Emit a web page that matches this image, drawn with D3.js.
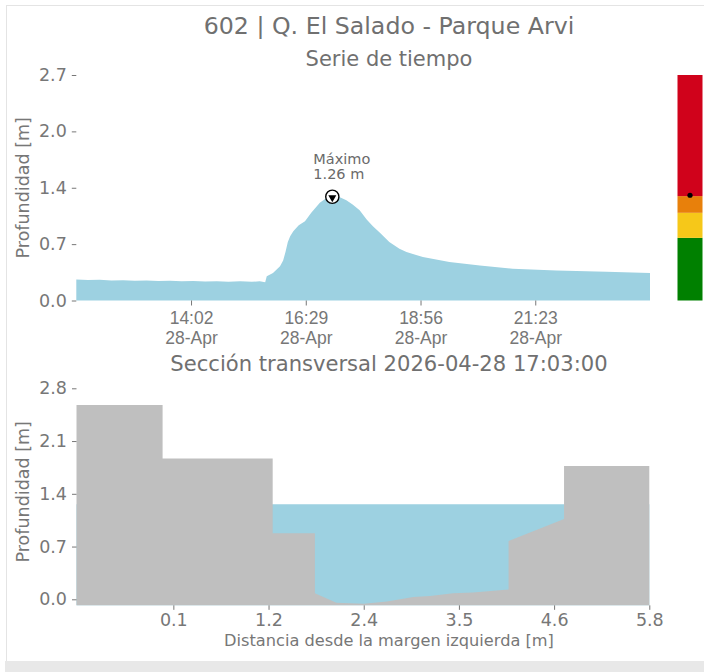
<!DOCTYPE html>
<html>
<head>
<meta charset="utf-8">
<script src="https://cdn.jsdelivr.net/npm/d3@7"></script>
<style>
  html, body { margin: 0; padding: 0; background: #fff; }
  svg { display: block; font-family: "DejaVu Sans", sans-serif; }
</style>
</head>
<body>
<svg id="chart" width="704" height="672"></svg>
<script>
// ---------- DATA ----------
const stationTitle = "602 | Q. El Salado - Parque Arvi";
const seriesTitle = "Serie de tiempo";
const sectionTitle = "Sección transversal 2026-04-28 17:03:00";
const dateStr = "2026-04-28";

const seriesTimes = ["11:35","11:50","12:05","12:20","12:35","12:50","13:05","13:20","13:35","13:50",
  "14:05","14:20","14:35","14:50","15:05","15:20","15:30","15:37","15:39","15:47","15:56","16:00",
  "16:03","16:06","16:09","16:13","16:20","16:28","16:36","16:47","16:56","17:03","17:12","17:21",
  "17:29","17:38","17:47","17:55","18:04","18:16","18:29","18:38","18:59","19:33","20:12","20:54",
  "21:50","22:54","23:50"];
const seriesDepth = [0.25,0.245,0.248,0.24,0.243,0.236,0.238,0.232,0.235,0.23,
  0.233,0.228,0.231,0.226,0.229,0.224,0.23,0.22,0.29,0.33,0.41,0.48,
  0.58,0.70,0.77,0.83,0.90,0.95,1.05,1.17,1.23,1.26,1.24,1.20,
  1.15,1.08,0.97,0.89,0.81,0.70,0.62,0.58,0.52,0.46,0.42,0.38,
  0.36,0.345,0.33];
const timeStart = "11:35", timeEnd = "23:50";
const timeTicks = ["14:02","16:29","18:56","21:23"];
const topYTicks = [0, 0.675, 1.35, 2.025, 2.7];

const maxLabel = "Máximo";
const maxValueLabel = "1.26 m";

// alert levels (bar on the right)
const levelBounds = [0, 0.75, 1.05, 1.25, 2.7];
const levelColors = ["#008000", "#f6c819", "#e8800b", "#d0021b"];
const currentLevel = 1.26;

// cross-section
const groundX = [-1.12, -0.08, -0.08, 1.25, 1.25, 1.76, 1.76, 2.02, 2.35, 2.63, 2.95, 3.15, 3.43, 3.67, 3.92, 4.10, 4.10, 4.77, 4.77, 5.8];
const groundZ = [2.58, 2.58, 1.87, 1.87, 0.876, 0.876, 0.08, -0.045, -0.06, -0.03, 0.03, 0.045, 0.08, 0.09, 0.115, 0.13, 0.774, 1.065, 1.77, 1.77];
const waterLevel = 1.26;
const secXTicks = [0.05, 1.2, 2.35, 3.5, 4.65, 5.8];
const secXTickLabels = ["0.1", "1.2", "2.4", "3.5", "4.6", "5.8"];
const secYTicks = [0, 0.7, 1.4, 2.1, 2.8];
const secYMin = -0.08;
const yLabel = "Profundidad [m]";
const xLabel = "Distancia desde la margen izquierda [m]";

// ---------- DRAW ----------
const svg = d3.select("#chart");
const textCol = "#707070";
const tickCol = "#777";
const parse = d3.timeParse("%Y-%m-%d %H:%M");
const T = s => parse(dateStr + " " + s);

// frame
svg.append("line").attr("x1", 6).attr("x2", 704).attr("y1", 5.5).attr("y2", 5.5).attr("stroke", "#e4e4e4");
svg.append("line").attr("x1", 6.5).attr("x2", 6.5).attr("y1", 5).attr("y2", 661).attr("stroke", "#e4e4e4");
svg.append("rect").attr("x", 5).attr("y", 661).attr("width", 699).attr("height", 11).attr("fill", "#e8e8e8");

const cx = 389;
svg.append("text").attr("x", cx).attr("y", 34).attr("text-anchor", "middle")
  .attr("font-size", 23.7).attr("fill", textCol).text(stationTitle);
svg.append("text").attr("x", cx).attr("y", 66).attr("text-anchor", "middle")
  .attr("font-size", 21).attr("fill", textCol).text(seriesTitle);
svg.append("text").attr("x", cx).attr("y", 371).attr("text-anchor", "middle")
  .attr("font-size", 21.1).attr("fill", textCol).text(sectionTitle);

// ---- top chart ----
const x1 = d3.scaleTime().domain([T(timeStart), T(timeEnd)]).range([76.3, 650]);
const y1 = d3.scaleLinear().domain([0, 2.7]).range([300.5, 75]);
const series = seriesTimes.map((t, i) => ({ t: T(t), v: seriesDepth[i] }));

svg.append("path").datum(series)
  .attr("fill", "#9dd1e1")
  .attr("d", d3.area().x(d => x1(d.t)).y0(y1(0)).y1(d => y1(d.v)));

const gx1 = svg.append("g").attr("transform", `translate(0,${y1(0)})`)
  .call(d3.axisBottom(x1).tickValues(timeTicks.map(T)).tickSize(5).tickPadding(6).tickFormat(""));
gx1.select(".domain").remove();
gx1.selectAll(".tick line").attr("stroke", tickCol);
gx1.selectAll(".tick").each(function(d) {
  const g = d3.select(this);
  const tx = g.append("text").attr("fill", tickCol).attr("font-size", 17.5).attr("text-anchor", "middle");
  tx.append("tspan").attr("x", 0).attr("y", 23).text(d3.timeFormat("%H:%M")(d));
  tx.append("tspan").attr("x", 0).attr("y", 43).text(d3.timeFormat("%d-%b")(d));
});

const gy1 = svg.append("g").attr("transform", `translate(76.3,0)`)
  .call(d3.axisLeft(y1).tickValues(topYTicks).tickSize(4.5).tickPadding(5).tickFormat(d3.format(".1f")));
gy1.select(".domain").remove();
gy1.selectAll(".tick line").attr("stroke", tickCol);
gy1.selectAll(".tick text").attr("fill", tickCol).attr("font-size", 17.5).attr("font-family", "DejaVu Sans");

svg.append("text").attr("transform", `translate(29,${(y1(0) + y1(2.7)) / 2}) rotate(-90)`)
  .attr("text-anchor", "middle").attr("font-size", 17.5).attr("fill", tickCol).text(yLabel);

// max marker
const maxPt = series.reduce((a, b) => (b.v > a.v ? b : a));
const mx = x1(maxPt.t), my = y1(maxPt.v) + 1.5;
svg.append("circle").attr("cx", mx).attr("cy", my).attr("r", 6.6)
  .attr("fill", "#fff").attr("stroke", "#000").attr("stroke-width", 1.4);
svg.append("path").attr("transform", `translate(${mx},${my + 0.8}) rotate(180)`)
  .attr("d", d3.symbol().type(d3.symbolTriangle).size(28)).attr("fill", "#000");
svg.append("text").attr("x", mx - 19).attr("y", my - 33).attr("font-size", 14.5).attr("fill", "#6a6a6a").text(maxLabel);
svg.append("text").attr("x", mx - 19).attr("y", my - 18).attr("font-size", 14.5).attr("fill", "#6a6a6a").text(maxValueLabel);

// alert bar
for (let i = 0; i < levelColors.length; i++) {
  svg.append("rect").attr("x", 677.5).attr("width", 25)
    .attr("y", y1(levelBounds[i + 1])).attr("height", y1(levelBounds[i]) - y1(levelBounds[i + 1]))
    .attr("fill", levelColors[i]);
}
svg.append("circle").attr("cx", 690).attr("cy", y1(currentLevel)).attr("r", 2.6).attr("fill", "#000");

// ---- cross section ----
const x2 = d3.scaleLinear().domain([-1.12, 5.8]).range([76.5, 649.3]);
const y2 = d3.scaleLinear().domain([0, 2.8]).range([599.3, 388.3]);
const ground = groundX.map((x, i) => ({ x, z: groundZ[i] }));

svg.append("path").datum(ground)
  .attr("fill", "#9dd1e1")
  .attr("d", d3.area().x(d => x2(d.x)).y0(y2(secYMin)).y1(() => y2(waterLevel)));
svg.append("path").datum(ground)
  .attr("fill", "#bfbfbf")
  .attr("d", d3.area().x(d => x2(d.x)).y0(y2(secYMin)).y1(d => y2(d.z)));

const gx2 = svg.append("g").attr("transform", `translate(0,${y2(secYMin)})`)
  .call(d3.axisBottom(x2).tickValues(secXTicks).tickSize(4.5).tickPadding(4)
    .tickFormat((d, i) => secXTickLabels[i]));
gx2.select(".domain").remove();
gx2.selectAll(".tick line").attr("stroke", tickCol);
gx2.selectAll(".tick text").attr("fill", tickCol).attr("font-size", 17.5).attr("font-family", "DejaVu Sans");

const gy2 = svg.append("g").attr("transform", `translate(76.5,0)`)
  .call(d3.axisLeft(y2).tickValues(secYTicks).tickSize(4.5).tickPadding(5).tickFormat(d3.format(".1f")));
gy2.select(".domain").remove();
gy2.selectAll(".tick line").attr("stroke", tickCol);
gy2.selectAll(".tick text").attr("fill", tickCol).attr("font-size", 17.5).attr("font-family", "DejaVu Sans");

svg.append("text").attr("transform", `translate(29,${(y2(0) + y2(2.8)) / 2 - 2}) rotate(-90)`)
  .attr("text-anchor", "middle").attr("font-size", 17.5).attr("fill", tickCol).text(yLabel);
svg.append("text").attr("x", cx).attr("y", 646).attr("text-anchor", "middle")
  .attr("font-size", 16.2).attr("fill", tickCol).text(xLabel);
</script>
</body>
</html>
